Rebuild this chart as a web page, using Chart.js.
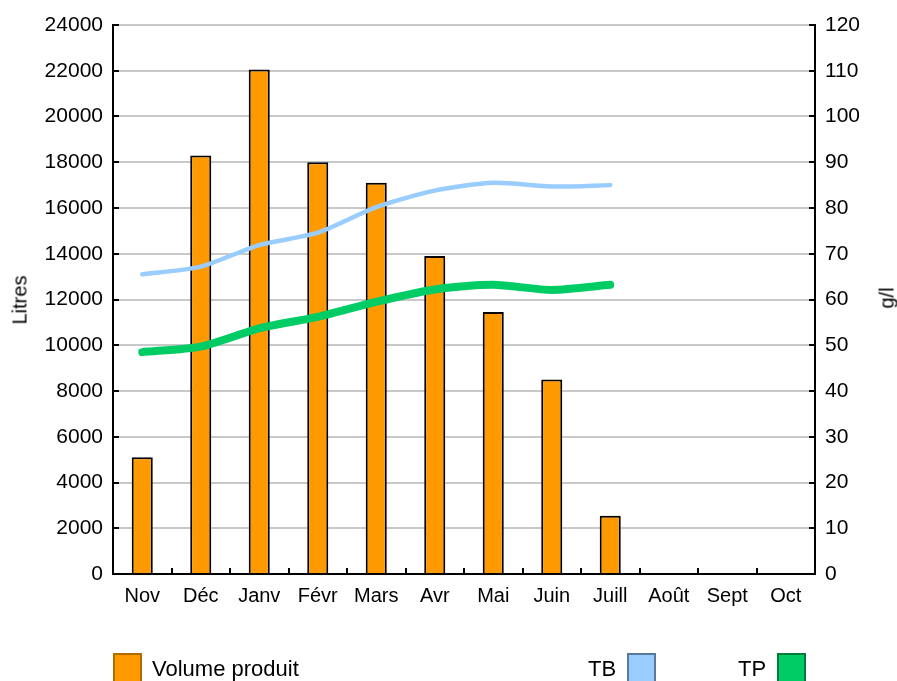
<!DOCTYPE html>
<html>
<head>
<meta charset="utf-8">
<script src="https://cdn.jsdelivr.net/npm/chart.js@4"></script>
<style>
  html, body { margin: 0; padding: 0; background: #fff; }
  #wrap { position: relative; width: 897px; height: 681px; overflow: hidden; font-family: "Liberation Sans", Arial, sans-serif; }
  #chart { position: absolute; left: 0; top: 0; }
  .ytitle { position: absolute; font-size: 20px; color: #000; transform: translate(-50%, -50%) rotate(-90deg); white-space: nowrap; }
  .lg { position: absolute; top: 655px; font-size: 22px; color: #000; line-height: 28px; white-space: nowrap; }
  .box { position: absolute; top: 653px; width: 29px; height: 40px; border: 2px solid; box-sizing: border-box; }
</style>
</head>
<body>
<div id="wrap">
  <canvas id="chart" width="897" height="681"></canvas>
  <div class="ytitle" style="left:20px;top:300px;">Litres</div>
  <div class="ytitle" style="left:887px;top:298px;">g/l</div>
  <div class="box" style="left:113px;background:#ff9900;border-color:#b36b00;"></div>
  <div class="lg" style="left:152px;">Volume produit</div>
  <div class="lg" style="left:588px;">TB</div>
  <div class="box" style="left:627px;background:#99ccff;border-color:#5a7a9a;"></div>
  <div class="lg" style="left:738px;">TP</div>
  <div class="box" style="left:777px;background:#00cc66;border-color:#007a3d;"></div>
</div>
<script>
// ---- data ----
const months = ['Nov', 'Déc', 'Janv', 'Févr', 'Mars', 'Avr', 'Mai', 'Juin', 'Juill', 'Août', 'Sept', 'Oct'];
const volume = [5100, 18300, 22050, 18000, 17100, 13900, 11450, 8500, 2550, null, null, null];
const tb = [65.5, 67.2, 71.9, 74.6, 80.2, 83.8, 85.5, 84.7, 85.0, null, null, null];
const tp = [48.5, 49.7, 53.7, 56.2, 59.5, 62.2, 63.2, 62.1, 63.2, null, null, null];

const FONT = { family: '"Liberation Sans", Arial, sans-serif', size: 21 };

// short black ticks drawn inward on all three axes
const innerTicks = {
  id: 'innerTicks',
  afterDraw(chart) {
    const { ctx, chartArea: a, scales } = chart;
    ctx.save();
    ctx.strokeStyle = '#000';
    ctx.lineWidth = 2;
    ctx.beginPath();
    scales.y.ticks.forEach(t => {
      const y = Math.round(scales.y.getPixelForValue(t.value));
      ctx.moveTo(a.left, y); ctx.lineTo(a.left + 6, y);
    });
    scales.y1.ticks.forEach(t => {
      const y = Math.round(scales.y1.getPixelForValue(t.value));
      ctx.moveTo(a.right - 6, y); ctx.lineTo(a.right, y);
    });
    const w = (a.right - a.left) / months.length;
    for (let i = 1; i < months.length; i++) {
      const x = Math.round(a.left + i * w);
      ctx.moveTo(x, a.bottom); ctx.lineTo(x, a.bottom - 6);
    }
    ctx.stroke();
    ctx.restore();
  },
};

new Chart(document.getElementById('chart').getContext('2d'), {
  data: {
    labels: months,
    datasets: [
      {
        type: 'line', label: 'TP', data: tp, yAxisID: 'y1', order: 1,
        borderColor: '#00cc66', borderWidth: 8, borderCapStyle: 'round', borderJoinStyle: 'round',
        tension: 0.25, pointRadius: 0, spanGaps: false,
      },
      {
        type: 'line', label: 'TB', data: tb, yAxisID: 'y1', order: 0,
        borderColor: '#99ccff', borderWidth: 4.5, borderCapStyle: 'round', borderJoinStyle: 'round',
        tension: 0.25, pointRadius: 0, spanGaps: false,
      },
      {
        type: 'bar', label: 'Volume produit', data: volume, yAxisID: 'y', order: 2,
        backgroundColor: '#ff9900', borderColor: '#000', borderWidth: 2,
        barPercentage: 0.36, categoryPercentage: 1,
      },
    ],
  },
  plugins: [innerTicks],
  options: {
    responsive: false,
    animation: false,
    layout: { padding: { top: 25, left: 0, right: 0, bottom: 0 } },
    plugins: { legend: { display: false }, tooltip: { enabled: false } },
    scales: {
      x: {
        offset: true,
        grid: { display: false },
        border: { color: '#000', width: 2 },
        ticks: { color: '#000', font: { ...FONT, size: 20 }, padding: 2, maxRotation: 0, autoSkip: false },
        afterFit: s => { s.height = 107; },
      },
      y: {
        position: 'left', min: 0, max: 24000,
        grid: { color: '#c8c8c8', lineWidth: 2, drawTicks: false },
        border: { color: '#000', width: 2 },
        ticks: { stepSize: 2000, color: '#000', font: FONT, padding: 10, callback: v => String(v) },
        afterFit: s => { s.width = 113; },
      },
      y1: {
        position: 'right', min: 0, max: 120,
        grid: { drawOnChartArea: false, drawTicks: false },
        border: { color: '#000', width: 2 },
        ticks: { stepSize: 10, color: '#000', font: FONT, padding: 10, callback: v => String(v) },
        afterFit: s => { s.width = 82; },
      },
    },
  },
});
</script>
</body>
</html>
